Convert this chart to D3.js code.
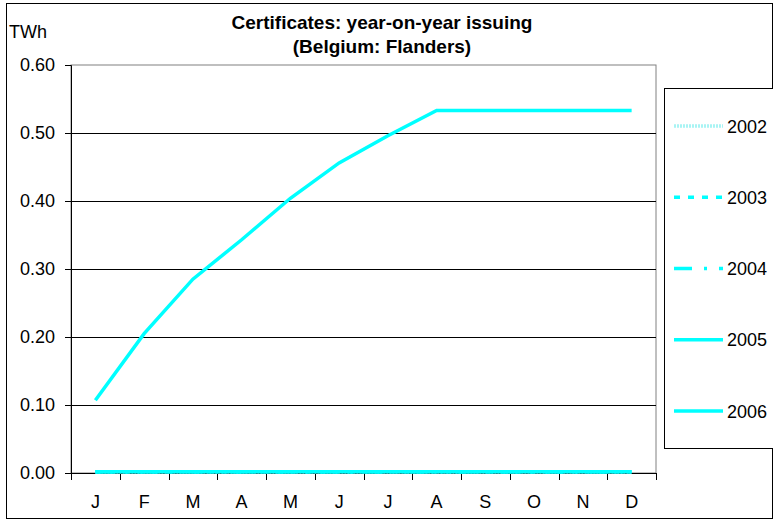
<!DOCTYPE html>
<html>
<head>
<meta charset="utf-8">
<script src="https://cdn.jsdelivr.net/npm/d3@7/dist/d3.min.js"></script>
<style>
  body { margin: 0; background: #fff; }
  svg { font-family: Arial, "Liberation Sans", sans-serif; }
</style>
</head>
<body>
<svg id="chart" width="773" height="524"></svg>
<script>
// months on the x axis
const months = ["J", "F", "M", "A", "M", "J", "J", "A", "S", "O", "N", "D"];
const yTicks = [0, 0.1, 0.2, 0.3, 0.4, 0.5, 0.6];

// series values (TWh)
const years = ["2002", "2003", "2004", "2005", "2006"];
const v2002 = [0.002, 0.002, 0.002, 0.002, 0.002, 0.002, 0.002, 0.002, 0.002, 0.002, 0.002, 0.002];
const v2003 = [0.002, 0.002, 0.002, 0.002, 0.002, 0.002, 0.002, 0.002, 0.002, 0.002, 0.002, 0.002];
const v2004 = [0.002, 0.002, 0.002, 0.002, 0.002, 0.002, 0.002, 0.002, 0.002, 0.002, 0.002, 0.002];
const v2005 = [0.002, 0.002, 0.002, 0.002, 0.002, 0.002, 0.002, 0.002, 0.002, 0.002, 0.002, 0.002];
const v2006 = [0.107, 0.205, 0.285, 0.343, 0.404, 0.456, 0.496, 0.533, 0.533, 0.533, 0.533, 0.533];

const series = [
  { name: "2002", values: v2002, color: "#a8f4f4", dash: "2,1" },
  { name: "2003", values: v2003, color: "#00ffff", dash: "6,8" },
  { name: "2004", values: v2004, color: "#00ffff", dash: "18,12,3,12" },
  { name: "2005", values: v2005, color: "#00ffff", dash: null },
  { name: "2006", values: v2006, color: "#00ffff", dash: null }
];

const svg = d3.select("#chart");

// outer chart border
svg.append("rect")
  .attr("x", 6.5).attr("y", 3.5)
  .attr("width", 766).attr("height", 515)
  .attr("fill", "none").attr("stroke", "#000").attr("stroke-width", 1);

const margin = { top: 65, left: 71 };
const width = 585, height = 408;

const g = svg.append("g")
  .attr("transform", "translate(" + margin.left + "," + margin.top + ")");

const xScale = d3.scaleBand().domain(d3.range(months.length)).range([0, width]);
const yScale = d3.scaleLinear().domain([0, 0.6]).range([height, 0]);

// plot area border
g.append("rect")
  .attr("x", 0).attr("y", 0).attr("width", width).attr("height", height)
  .attr("fill", "none").attr("stroke", "#808080").attr("stroke-width", 1);

// gridlines
g.selectAll(".grid")
  .data(yTicks.slice(1, -1))
  .enter().append("line")
  .attr("x1", 0).attr("x2", width)
  .attr("y1", d => Math.round(yScale(d)) + 0.5)
  .attr("y2", d => Math.round(yScale(d)) + 0.5)
  .attr("stroke", "#000").attr("stroke-width", 1);

// y axis
const yAxis = g.append("g")
  .call(d3.axisLeft(yScale).tickValues(yTicks).tickFormat(d3.format(".2f")).tickSize(6).tickPadding(10));
yAxis.select(".domain").attr("stroke", "#000");
yAxis.selectAll("text").attr("font-size", 18).attr("fill", "#000")
  .style("font-family", "Arial, 'Liberation Sans', sans-serif");

// x axis: ticks between categories
const xAxis = g.append("g").attr("transform", "translate(0," + height + ")");
xAxis.append("line")
  .attr("x1", 0).attr("x2", width).attr("y1", 0.5).attr("y2", 0.5)
  .attr("stroke", "#000");
xAxis.selectAll(".xtick")
  .data(d3.range(months.length + 1))
  .enter().append("line")
  .attr("x1", d => Math.round(d * xScale.step()) + 0.5)
  .attr("x2", d => Math.round(d * xScale.step()) + 0.5)
  .attr("y1", 0).attr("y2", 7)
  .attr("stroke", "#000");
xAxis.selectAll(".xlabel")
  .data(months)
  .enter().append("text")
  .attr("x", (d, i) => xScale(i) + xScale.bandwidth() / 2)
  .attr("y", 35)
  .attr("text-anchor", "middle")
  .attr("font-size", 18)
  .text(d => d);

// lines
const line = d3.line()
  .x((d, i) => xScale(i) + xScale.bandwidth() / 2)
  .y(d => yScale(d));

g.selectAll(".series")
  .data(series)
  .enter().append("path")
  .attr("d", d => line(d.values))
  .attr("fill", "none")
  .attr("stroke", d => d.color)
  .attr("stroke-width", 3.5)
  .attr("stroke-dasharray", d => d.dash);

// titles
svg.append("text")
  .attr("x", 382).attr("y", 29)
  .attr("text-anchor", "middle").attr("font-size", 19).attr("font-weight", "bold")
  .text("Certificates: year-on-year issuing");
svg.append("text")
  .attr("x", 382).attr("y", 53)
  .attr("text-anchor", "middle").attr("font-size", 19).attr("font-weight", "bold")
  .text("(Belgium: Flanders)");
svg.append("text")
  .attr("x", 9).attr("y", 38)
  .attr("font-size", 18)
  .text("TWh");

// legend
const legend = svg.append("g");
legend.append("rect")
  .attr("x", 664.5).attr("y", 88.5).attr("width", 120).attr("height", 360)
  .attr("fill", "#fff").attr("stroke", "#000");
const legendY = d3.scalePoint().domain(years).range([126, 411]);
const items = legend.selectAll(".item")
  .data(series)
  .enter().append("g")
  .attr("transform", d => "translate(0," + legendY(d.name) + ")");
items.append("line")
  .attr("x1", 674).attr("x2", 723).attr("y1", 0).attr("y2", 0)
  .attr("stroke", d => d.color).attr("stroke-width", 3.5)
  .attr("stroke-dasharray", d => d.dash);
items.append("text")
  .attr("x", 727).attr("y", 6.5)
  .attr("font-size", 18)
  .text(d => d.name);
</script>
</body>
</html>
